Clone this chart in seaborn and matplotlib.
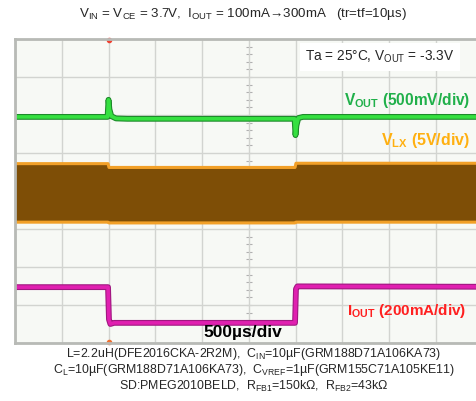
import numpy as np
import pandas as pd
import matplotlib.pyplot as plt
import seaborn as sns

# scope screen: 10 div x 500us, 8 div vertical; traces in screen divisions
t_vout = [0, 990, 1000, 1010, 1030, 1080, 1200, 2990, 3000, 3010, 3030, 3080, 5000]
vout_div = [5.95, 5.95, 6.40, 6.15, 5.97, 5.91, 5.90, 5.90, 5.47, 5.72, 5.92, 5.95, 5.95]

t_vlx = [0, 995, 1005, 2995, 3005, 5000]
vlx_top = [4.72, 4.72, 4.62, 4.62, 4.73, 4.73]
vlx_bot = [3.18, 3.18, 3.16, 3.16, 3.18, 3.18]

t_iout = [0, 995, 1005, 1020, 1060, 2995, 3005, 3020, 5000]
iout_div = [1.47, 1.47, 0.62, 0.50, 0.53, 0.53, 1.42, 1.49, 1.48]

trigger_t = [1000]

notes = [
    r'L=2.2uH(DFE2016CKA-2R2M),  $\mathrm{C_{IN}}$=10µF(GRM188D71A106KA73)',
    r'$\mathrm{C_{L}}$=10µF(GRM188D71A106KA73),  $\mathrm{C_{VREF}}$=1µF(GRM155C71A105KE11)',
    r'SD:PMEG2010BELD,  $\mathrm{R_{FB1}}$=150kΩ,  $\mathrm{R_{FB2}}$=43kΩ',
]

sns.set_style("white")
plt.rcParams['font.family'] = ['Liberation Sans', 'DejaVu Sans']
plt.rcParams['mathtext.fontset'] = 'custom'
plt.rcParams['mathtext.rm'] = 'Liberation Sans'
plt.rcParams['mathtext.bf'] = 'Liberation Sans:bold'

W, H = 477, 401
fig = plt.figure(figsize=(W / 100, H / 100), dpi=100)
ax = fig.add_axes([15 / W, 1 - 343 / H, 467.5 / W, 304 / H])
ax.set_facecolor('#f7f9f5')

ax.set_xlim(0, 5000)
ax.set_ylim(0, 8)
ax.set_xticks(np.arange(0, 5001, 500))
ax.set_yticks(np.arange(0, 9, 1))
ax.set_xticklabels([])
ax.set_yticklabels([])
ax.tick_params(length=0)
ax.grid(True, color='#d2d4d0', lw=1)
ax.set_axisbelow(True)
for s in ax.spines.values():
    s.set_color('#b8bab6')
    s.set_linewidth(2)

# minor ticks on the centre axis
ax.plot([2500] * 41, np.arange(0, 8.01, 0.2), ls='none', marker='_', ms=4,
        color='#b0b0b0', mew=0.8, zorder=0.5)

# V_LX switching band
ax.fill_between(t_vlx, vlx_bot, vlx_top, color='#7e4e06', lw=0, zorder=2)
ax.plot(t_vlx, vlx_top, color='#f2a028', lw=2.2, zorder=2)
ax.plot(t_vlx, vlx_bot, color='#f2a028', lw=2.2, zorder=2)

df_v = pd.DataFrame({'t': t_vout, 'v': vout_div})
sns.lineplot(data=df_v, x='t', y='v', ax=ax, color='#1d8a2a', lw=4.2,
             estimator=None, sort=False)
sns.lineplot(data=df_v, x='t', y='v', ax=ax, color='#35e040', lw=2.6,
             estimator=None, sort=False)

df_i = pd.DataFrame({'t': t_iout, 'i': iout_div})
sns.lineplot(data=df_i, x='t', y='i', ax=ax, color='#a01880', lw=4.2,
             estimator=None, sort=False)
sns.lineplot(data=df_i, x='t', y='i', ax=ax, color='#e020b0', lw=2.6,
             estimator=None, sort=False)

ax.plot(trigger_t, [7.97], marker='o', ms=3, color='#f04030', clip_on=False)
ax.plot(trigger_t, [0.03], marker='o', ms=3, color='#f07030', clip_on=False)
ax.set_xlabel('')
ax.set_ylabel('')

def fx(px):
    return px / W

def fy(py):
    return 1 - py / H

fig.text(fx(243), fy(14), r'$\mathrm{V_{IN}}$ = $\mathrm{V_{CE}}$ = 3.7V,  $\mathrm{I_{OUT}}$ = 100mA→300mA   (tr=tf=10µs)',
         ha='center', va='center', fontsize=9.6)

fig.text(fx(380), fy(57), r'Ta = 25°C, $\mathrm{V_{OUT}}$ = -3.3V', ha='center', va='center',
         fontsize=9.8, bbox=dict(boxstyle='square,pad=0.4', fc='white', ec='none'))

fig.text(fx(470), fy(101), r'$\mathbf{V}_\mathbf{OUT}$ (500mV/div)', ha='right', va='center',
         fontsize=11.2, fontweight='bold', color='#20b04a')
fig.text(fx(470), fy(141), r'$\mathbf{V}_\mathbf{LX}$ (5V/div)', ha='right', va='center',
         fontsize=11.5, fontweight='bold', color='#ffb010')
fig.text(fx(466), fy(311), r'$\mathbf{I}_\mathbf{OUT}$ (200mA/div)', ha='right', va='center',
         fontsize=11, fontweight='bold', color='#ff2020')
fig.text(fx(243), fy(332), '500µs/div', ha='center', va='center',
         fontsize=12.5, fontweight='bold', color='black')

fig.text(fx(254), fy(370), '\n'.join(notes), ha='center', va='center',
         multialignment='center', fontsize=8.9, linespacing=1.0)

fig.savefig('out.png', dpi=100)
